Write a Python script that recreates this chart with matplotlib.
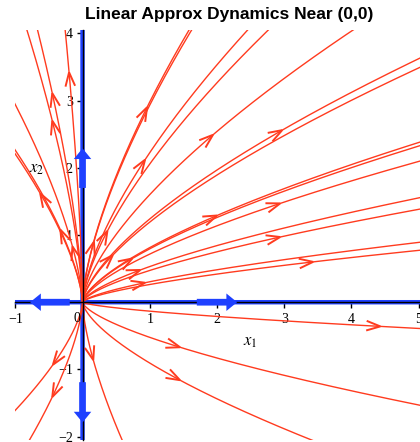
import numpy as np
import matplotlib.pyplot as plt
from matplotlib.patches import FancyArrow

plt.rcParams['mathtext.fontset'] = 'stix'

# linear approximation x' = A x at the equilibrium (0,0)
A = np.array([[3.0, 0.0],
              [0.0, 2.0]])

# initial points of the red trajectories (an arrowhead is drawn at each one)
start_x1 = [0.96, 0.17, 0.93, 0.37, 1.94, 2.97, 0.45, 0.74, 2.00, 2.94, 0.86, 2.94, 0.93, 3.43,
            -0.45, -0.45, -0.20, -0.63, -0.33, -0.15,
            -0.44, -0.45,
            0.16, 1.45, 1.45, 4.43]
start_x2 = [2.90, 0.90, 2.12, 1.06, 2.49, 2.56, 0.70, 0.65, 1.29, 1.47, 0.48, 0.97, 0.29, 0.60,
            2.70, 3.11, 3.42, 1.62, 1.08, 0.83,
            -0.93, -1.41,
            -0.86, -1.16, -0.67, -0.36]

# straight-line solutions along the eigenvectors
eig_x1 = [1.0, -1.0, 0.0, 0.0]
eig_x2 = [0.0, 0.0, 1.0, -1.0]
# blue arrows on the eigenvector lines: tail and head
eig_tail = [(-0.19, 0.0), (1.70, 0.0), (0.0, 1.70), (0.0, -1.19)]
eig_head = [(-0.78, 0.0), (2.30, 0.0), (0.0, 2.29), (0.0, -1.79)]

xticks = [-1, 0, 1, 2, 3, 4, 5]
yticks = [-2, -1, 0, 1, 2, 3, 4]

red = '#ff3b1f'
blue = '#1e40ff'

evals, evecs = np.linalg.eig(A)


def trajectory(x0):
    coef = np.linalg.solve(evecs, np.asarray(x0, dtype=float))
    t = np.linspace(-6, 2.5, 2000)
    return evecs @ (coef[:, None] * np.exp(np.outer(evals, t)))


fig = plt.figure(figsize=(4.2, 4.42), dpi=100)
ax = fig.add_axes([15.3 / 420, 2 / 442, (420 - 15.3) / 420, (440 - 30) / 442])
ax.set_xlim(-1, 5.02)
ax.set_ylim(-2.05, 4.05)

for s in ['top', 'right']:
    ax.spines[s].set_visible(False)
ax.spines['left'].set_position(('data', 0))
ax.spines['bottom'].set_position(('data', 0))
for s in ['left', 'bottom']:
    ax.spines[s].set_linewidth(1.0)
    ax.spines[s].set_zorder(3)

serif = 'Liberation Serif'
ax.set_xticks(xticks)
ax.set_xticklabels(['\u22121' if v == -1 else ('' if v == 0 else str(v)) for v in xticks],
                   family=serif, fontsize=10)
ax.set_yticks(yticks)
ax.set_yticklabels(['\u2212' + str(-v) if v < 0 else ('' if v == 0 else str(v)) for v in yticks],
                   family=serif, fontsize=10)
ax.tick_params(axis='x', direction='out', length=4, width=1, pad=4)
ax.tick_params(axis='y', direction='out', length=4, width=1, pad=3)
ax.text(-0.08, -0.24, '0', family=serif, fontsize=10, ha='center', va='center')

# eigenvector lines
for u, v in zip(eig_x1, eig_x2):
    p = trajectory((u, v))
    ax.plot(p[0], p[1], color=blue, lw=3.2, zorder=2, solid_capstyle='butt')

# trajectories
for u, v in zip(start_x1, start_x2):
    p = trajectory((u, v))
    ax.plot(p[0], p[1], color=red, lw=1.0, zorder=2)


def chevron(x0):
    x0 = np.asarray(x0, dtype=float)
    vel = A @ x0
    tip = ax.transData.transform(x0)
    d = ax.transData.transform(x0 + 1e-3 * vel) - tip
    d /= np.hypot(*d)
    n = np.array([-d[1], d[0]])
    arms = np.array([tip - 13 * d + 4.5 * n, tip, tip - 13 * d - 4.5 * n])
    pts = ax.transData.inverted().transform(arms)
    ax.plot(pts[:, 0], pts[:, 1], color=red, lw=1.4, zorder=2,
            solid_joinstyle='miter')


for u, v in zip(start_x1, start_x2):
    chevron((u, v))

for (tx, ty), (hx, hy) in zip(eig_tail, eig_head):
    ax.add_patch(FancyArrow(tx, ty, hx - tx, hy - ty, width=0.1, head_width=0.26,
                            head_length=0.16, length_includes_head=True,
                            color=blue, lw=0, zorder=4))

ax.text(2.49, -0.57, '$x_1$', fontsize=12, ha='center', va='center')
ax.text(-0.68, 1.99, '$x_2$', fontsize=12, ha='center', va='center')

fig.text(229 / 420, 1 - 14 / 442, 'Linear Approx Dynamics Near (0,0)',
         ha='center', va='center', fontweight='bold', family='Liberation Sans', fontsize=12.5)

fig.savefig('out.png', dpi=100)
